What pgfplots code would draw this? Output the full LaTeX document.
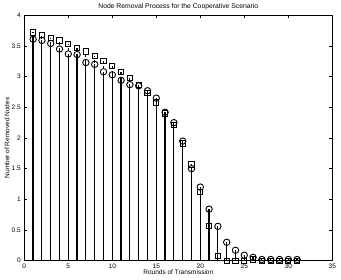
\documentclass[border=0pt]{standalone}
\usepackage{pgfplots}
\pgfplotsset{compat=1.18}
\usepackage{fontspec}
\setmainfont{Liberation Sans}
\begin{document}
\begin{tikzpicture}[x=1pt,y=1pt]
\begin{axis}[
  scale only axis, width=308pt, height=245.4pt,
  xmin=0, xmax=35, ymin=0, ymax=4,
  xtick={0,5,...,35}, ytick={0,0.5,...,4},
  tick align=inside, tick pos=both,
  major tick length=3pt,
  every tick/.style={black, line width=0.5pt},
  axis line style={line width=0.6pt},
  tick label style={font=\fontsize{6.5}{7}\selectfont},
  /pgf/number format/assume math mode=true,
  yticklabel style={/pgf/number format/fixed},
  title={Node Removal Process for the Cooperative Scenario},
  title style={font=\fontsize{6.8}{8}\selectfont, anchor=south, yshift=-4pt},
  xlabel={Rounds of Transmission},
  ylabel={Number of Removed Nodes},
  label style={font=\fontsize{6.5}{8}\selectfont},
  xlabel style={at={(axis description cs:0.5,0)}, anchor=north, inner sep=0pt, yshift=-9.3pt},
  ylabel style={yshift=-4.5pt},
  clip=false,
]
\addplot+[ycomb, black, line width=1.2pt, dashed, mark=square, mark size=2.6pt,
  mark options={solid, black, line width=0.9pt, fill=none}] coordinates {
(1,3.72) (2,3.68) (3,3.63) (4,3.59) (5,3.53) (6,3.47) (7,3.41) (8,3.34) (9,3.26) (10,3.17)
(11,3.08) (12,2.98) (13,2.86) (14,2.74) (15,2.58) (16,2.40) (17,2.21) (18,1.91) (19,1.57) (20,1.12)
(21,0.56) (22,0.08) (23,0.0) (24,0.0) (25,0.0) (26,0.02) (27,0.0) (28,0.0) (29,0.0) (30,0.0) (31,0.0)
};
\addplot+[ycomb, black, line width=1.2pt, solid, mark=o, mark size=3.2pt,
  mark options={solid, black, line width=0.9pt, fill=none}] coordinates {
(1,3.61) (2,3.59) (3,3.54) (4,3.45) (5,3.37) (6,3.36) (7,3.23) (8,3.20) (9,3.08) (10,3.03)
(11,2.94) (12,2.87) (13,2.85) (14,2.77) (15,2.65) (16,2.42) (17,2.25) (18,1.95) (19,1.50) (20,1.20)
(21,0.84) (22,0.56) (23,0.30) (24,0.17) (25,0.09) (26,0.055) (27,0.02) (28,0.02) (29,0.02) (30,0.02) (31,0.02)
};
\coordinate (LL) at (rel axis cs:0,0);
\end{axis}
\pgfresetboundingbox
\path (LL) ++(-24.3,-19.3) rectangle ++(341,280);
\end{tikzpicture}
\end{document}
